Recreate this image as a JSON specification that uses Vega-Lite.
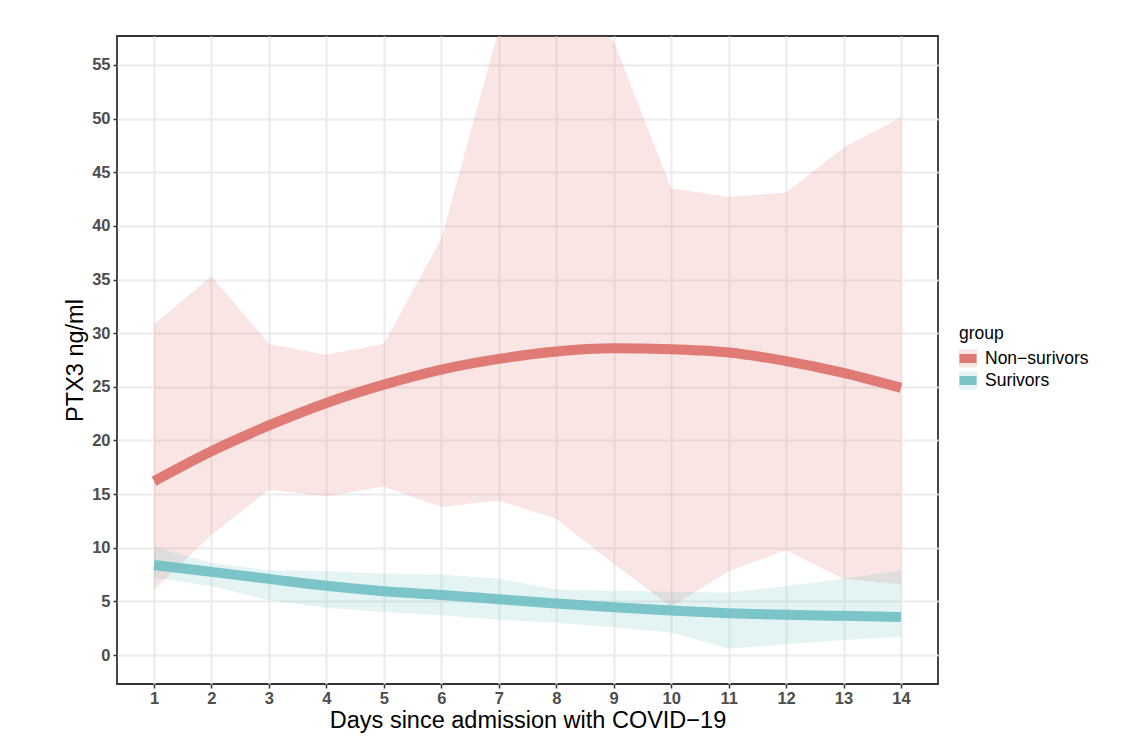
{
  "$schema": "https://vega.github.io/schema/vega-lite/v6.json",
  "width": 821,
  "height": 648,
  "autosize": {"type": "none"},
  "padding": {"left": 117, "top": 36, "right": 206, "bottom": 66},
  "background": "white",
  "datasets": {
    "ribbons": [
      {"day": 1, "group": "Non−surivors", "lo": 6.1, "hi": 30.8},
      {"day": 2, "group": "Non−surivors", "lo": 11.2, "hi": 35.3},
      {"day": 3, "group": "Non−surivors", "lo": 15.4, "hi": 29.0},
      {"day": 4, "group": "Non−surivors", "lo": 14.8, "hi": 28.0},
      {"day": 5, "group": "Non−surivors", "lo": 15.7, "hi": 29.0},
      {"day": 6, "group": "Non−surivors", "lo": 13.8, "hi": 38.8},
      {"day": 7, "group": "Non−surivors", "lo": 14.4, "hi": 58.3},
      {"day": 8, "group": "Non−surivors", "lo": 12.7, "hi": 62.0},
      {"day": 9, "group": "Non−surivors", "lo": 8.5, "hi": 57.2},
      {"day": 10, "group": "Non−surivors", "lo": 4.5, "hi": 43.5},
      {"day": 11, "group": "Non−surivors", "lo": 7.8, "hi": 42.7},
      {"day": 12, "group": "Non−surivors", "lo": 9.8, "hi": 43.1},
      {"day": 13, "group": "Non−surivors", "lo": 7.1, "hi": 47.3},
      {"day": 14, "group": "Non−surivors", "lo": 6.6, "hi": 50.1},
      {"day": 1, "group": "Surivors", "lo": 7.2, "hi": 10.1},
      {"day": 2, "group": "Surivors", "lo": 6.4, "hi": 8.6},
      {"day": 3, "group": "Surivors", "lo": 5.1, "hi": 7.9},
      {"day": 4, "group": "Surivors", "lo": 4.4, "hi": 7.8},
      {"day": 5, "group": "Surivors", "lo": 4.0, "hi": 7.6},
      {"day": 6, "group": "Surivors", "lo": 3.7, "hi": 7.5},
      {"day": 7, "group": "Surivors", "lo": 3.3, "hi": 7.1},
      {"day": 8, "group": "Surivors", "lo": 3.0, "hi": 6.1},
      {"day": 9, "group": "Surivors", "lo": 2.6, "hi": 6.0},
      {"day": 10, "group": "Surivors", "lo": 2.1, "hi": 5.9},
      {"day": 11, "group": "Surivors", "lo": 0.6, "hi": 5.8},
      {"day": 12, "group": "Surivors", "lo": 1.0, "hi": 6.4},
      {"day": 13, "group": "Surivors", "lo": 1.4, "hi": 7.1},
      {"day": 14, "group": "Surivors", "lo": 1.7, "hi": 7.9}
    ],
    "fits": [
      {"day": 1, "group": "Non−surivors", "ptx3": 16.2},
      {"day": 2, "group": "Non−surivors", "ptx3": 19.0},
      {"day": 3, "group": "Non−surivors", "ptx3": 21.4},
      {"day": 4, "group": "Non−surivors", "ptx3": 23.5},
      {"day": 5, "group": "Non−surivors", "ptx3": 25.2},
      {"day": 6, "group": "Non−surivors", "ptx3": 26.6},
      {"day": 7, "group": "Non−surivors", "ptx3": 27.6},
      {"day": 8, "group": "Non−surivors", "ptx3": 28.3},
      {"day": 9, "group": "Non−surivors", "ptx3": 28.6},
      {"day": 10, "group": "Non−surivors", "ptx3": 28.5},
      {"day": 11, "group": "Non−surivors", "ptx3": 28.2},
      {"day": 12, "group": "Non−surivors", "ptx3": 27.4},
      {"day": 13, "group": "Non−surivors", "ptx3": 26.3},
      {"day": 14, "group": "Non−surivors", "ptx3": 24.9},
      {"day": 1, "group": "Surivors", "ptx3": 8.4},
      {"day": 2, "group": "Surivors", "ptx3": 7.75},
      {"day": 3, "group": "Surivors", "ptx3": 7.1},
      {"day": 4, "group": "Surivors", "ptx3": 6.45},
      {"day": 5, "group": "Surivors", "ptx3": 5.95},
      {"day": 6, "group": "Surivors", "ptx3": 5.6},
      {"day": 7, "group": "Surivors", "ptx3": 5.2},
      {"day": 8, "group": "Surivors", "ptx3": 4.8},
      {"day": 9, "group": "Surivors", "ptx3": 4.45},
      {"day": 10, "group": "Surivors", "ptx3": 4.15},
      {"day": 11, "group": "Surivors", "ptx3": 3.9},
      {"day": 12, "group": "Surivors", "ptx3": 3.75},
      {"day": 13, "group": "Surivors", "ptx3": 3.65},
      {"day": 14, "group": "Surivors", "ptx3": 3.55}
    ]
  },
  "config": {
    "font": "Liberation Sans",
    "view": {"stroke": "#333333", "strokeWidth": 1.8},
    "axis": {
      "domain": false,
      "grid": true,
      "gridColor": "#ebebeb",
      "gridWidth": 2,
      "ticks": true,
      "tickColor": "#333333",
      "tickWidth": 1.5,
      "tickSize": 4,
      "labelFont": "Liberation Sans",
      "labelFontWeight": "bold",
      "labelFontSize": 16.5,
      "labelColor": "#4d4d4d",
      "labelPadding": 3,
      "titleFont": "Liberation Sans",
      "titleFontWeight": "normal",
      "titleFontSize": 23.5,
      "titleColor": "#000000"
    }
  },
  "layer": [
    {
      "data": {"name": "ribbons"},
      "mark": {"type": "area", "fillOpacity": 0.2, "clip": true},
      "encoding": {
        "x": {
          "field": "day", "type": "quantitative",
          "scale": {"domain": [0.356, 14.644], "nice": false, "zero": false},
          "axis": {"values": [1,2,3,4,5,6,7,8,9,10,11,12,13,14], "format": "d", "title": "Days since admission with COVID−19", "titlePadding": 2, "labelPadding": 2, "labelFlush": false}
        },
        "y": {
          "field": "hi", "type": "quantitative",
          "scale": {"domain": [-2.7, 57.7], "nice": false, "zero": false},
          "axis": {"values": [0,5,10,15,20,25,30,35,40,45,50,55], "title": "PTX3 ng/ml", "titlePadding": 4, "labelFlush": false}
        },
        "y2": {"field": "lo"},
        "fill": {
          "field": "group", "type": "nominal",
          "scale": {"range": ["#E07B74", "#7AC5C8"]},
          "legend": {
            "orient": "none", "legendX": 842, "legendY": 289,
            "title": "group", "titleFont": "Liberation Sans", "titleFontSize": 17.5, "titleFontWeight": "normal", "titleColor": "#000000", "titlePadding": 7,
            "labelFont": "Liberation Sans", "labelFontSize": 17.5, "labelColor": "#000000", "labelOffset": 8,
            "symbolType": "square", "symbolSize": 324, "symbolStrokeWidth": 0, "symbolOpacity": 0.2,
            "rowPadding": 4, "padding": 0, "zindex": 1
          }
        }
      }
    },
    {
      "data": {"name": "fits"},
      "mark": {"type": "line", "strokeWidth": 10, "interpolate": "monotone", "strokeCap": "butt", "opacity": 0.9, "clip": true},
      "encoding": {
        "x": {"field": "day", "type": "quantitative"},
        "y": {"field": "ptx3", "type": "quantitative"},
        "stroke": {
          "field": "group", "type": "nominal",
          "scale": {"range": ["#DB6E67", "#6FBFC2"]},
          "legend": {
            "orient": "none", "legendX": 842, "legendY": 289,
            "title": "group", "titleFont": "Liberation Sans", "titleFontSize": 17.5, "titleFontWeight": "normal", "titleColor": "transparent", "titlePadding": 7,
            "labelFont": "Liberation Sans", "labelFontSize": 17.5, "labelColor": "transparent", "labelOffset": 8,
            "symbolType": "M-1.9,0H1.9", "symbolSize": 81, "symbolStrokeWidth": 9, "symbolOpacity": 0.9,
            "rowPadding": 4, "padding": 0, "zindex": 2,
            "encode": {"symbols": {"update": {"strokeJoin": {"value": "round"}}}}
          }
        }
      }
    }
  ]
}
